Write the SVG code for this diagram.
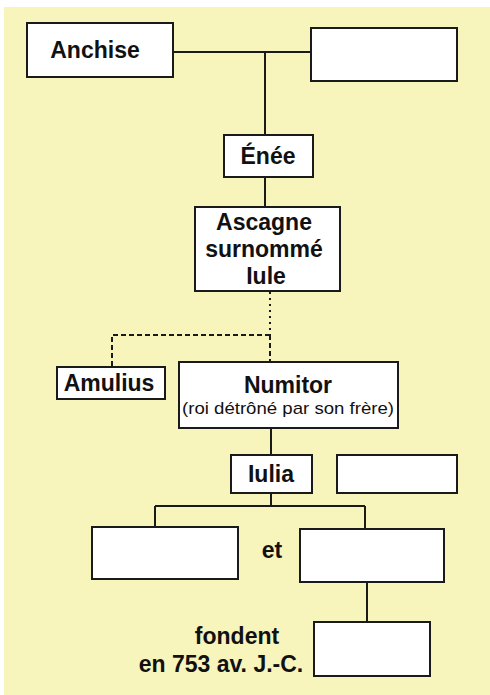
<svg xmlns="http://www.w3.org/2000/svg" width="490" height="695" viewBox="0 0 490 695">
<style>
.box{fill:#fff;stroke:#1a1a1a;stroke-width:2}
.ln{stroke:#1a1a1a;stroke-width:2;fill:none}
.dot{stroke:#1a1a1a;stroke-width:2;fill:none;stroke-dasharray:2 4}
.dash{stroke:#1a1a1a;stroke-width:2;fill:none;stroke-dasharray:5 3}
.t{font-family:"Liberation Sans",Arial,sans-serif;font-weight:bold;fill:#111;text-anchor:middle;font-size:23px}
.s{font-family:"Liberation Sans",Arial,sans-serif;fill:#111;text-anchor:middle}
</style>
<rect x="0" y="0" width="490" height="695" fill="#fff"/>
<rect x="4" y="7" width="486" height="688" fill="#f7f4bc"/>
<g id="connectors">
<path class="ln" d="M173 52H311M265 52V135M265 177V207"/>
<path class="dot" d="M270 292V335"/>
<path class="dash" d="M270 335H112V366M270 335V362"/>
<path class="ln" d="M271 428V455M271 493V506M155 506H365M155 506V527M365 506V529M367 582V621"/>
</g>
<g id="anchise"><rect class="box" x="27" y="23" width="146" height="54"/><text class="t" x="95" y="58">Anchise</text></g>
<g id="spouse1"><rect class="box" x="311" y="28" width="146" height="53"/></g>
<g id="enee"><rect class="box" x="224" y="135" width="89" height="42"/><text class="t" x="268" y="164">Énée</text></g>
<g id="ascagne"><rect class="box" x="195" y="207" width="145" height="84"/>
<text class="t" x="264" y="230">Ascagne</text>
<text class="t" x="264" y="257">surnommé</text>
<text class="t" x="266" y="284">Iule</text></g>
<g id="amulius"><rect class="box" x="57" y="367" width="108" height="32"/><text class="t" x="109" y="391">Amulius</text></g>
<g id="numitor"><rect class="box" x="179" y="362" width="219" height="66"/>
<text class="t" x="288" y="393">Numitor</text>
<text class="s" x="288" y="414" font-size="17" textLength="212" lengthAdjust="spacingAndGlyphs">(roi détrôné par son frère)</text></g>
<g id="iulia"><rect class="box" x="231" y="455" width="81" height="38"/><text class="t" x="271" y="482">Iulia</text></g>
<g id="spouse2"><rect class="box" x="337" y="455" width="120" height="38"/></g>
<g id="twin1"><rect class="box" x="92" y="527" width="146" height="52"/></g>
<text class="t" x="272" y="558">et</text>
<g id="twin2"><rect class="box" x="300" y="529" width="144" height="53"/></g>
<g id="city"><rect class="box" x="314" y="622" width="116" height="54"/></g>
<text class="t" x="237" y="644">fondent</text>
<text class="t" x="221" y="672">en 753 av. J.-C.</text>
</svg>
